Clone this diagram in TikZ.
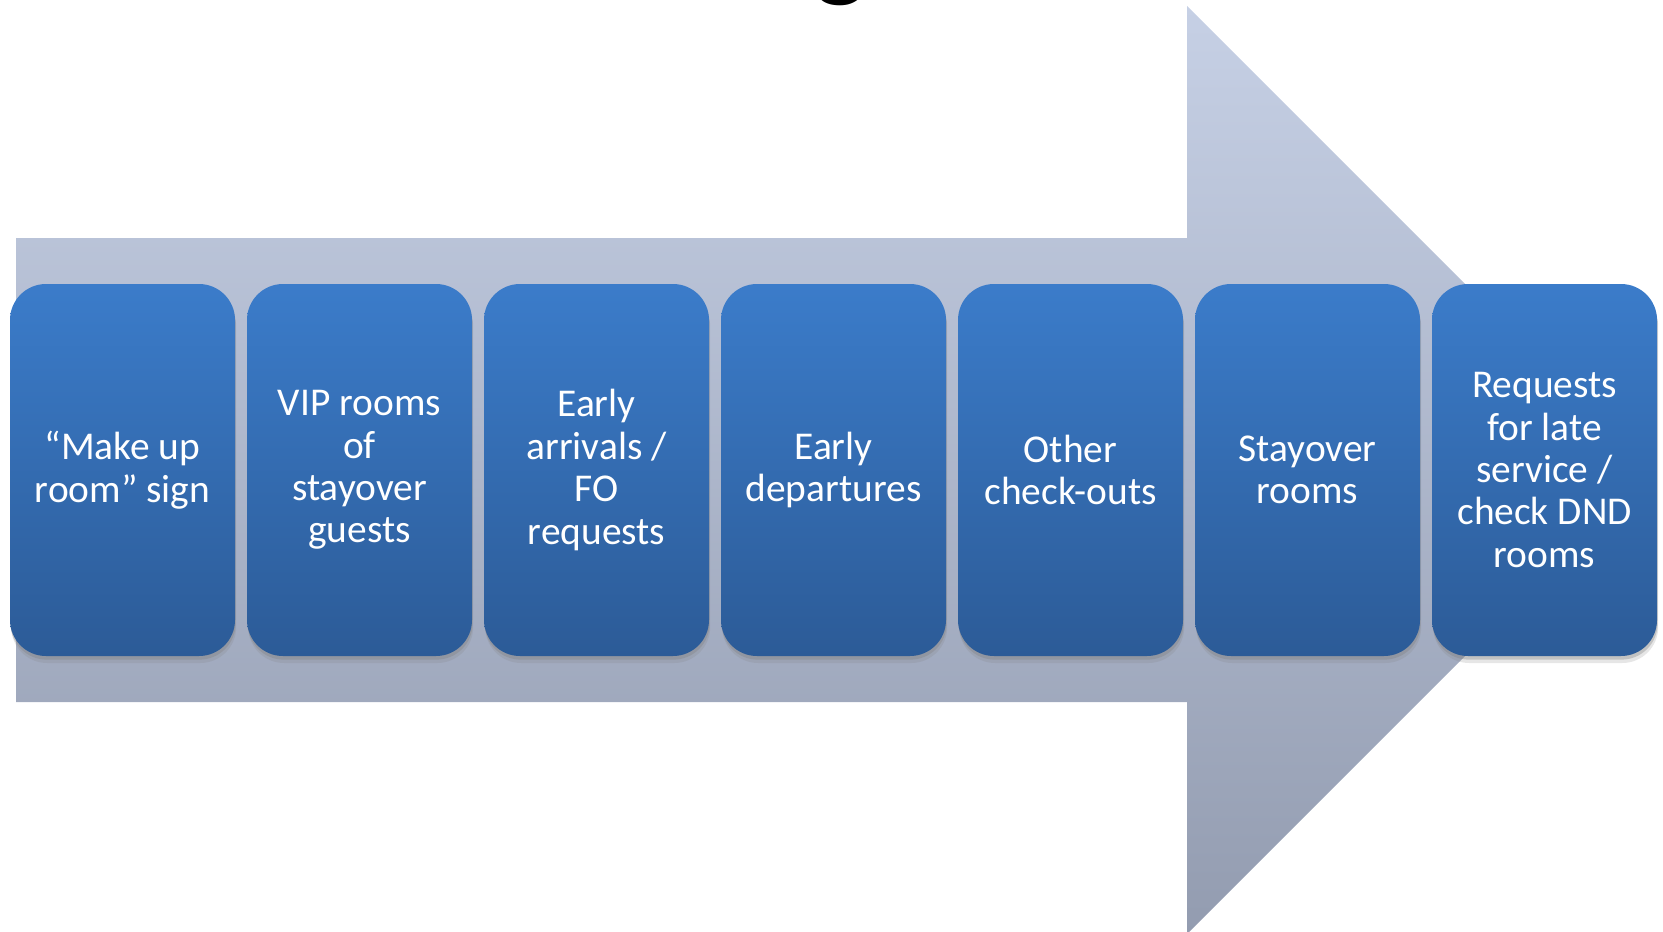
\documentclass[tikz,border=0pt]{standalone}
\usepackage{fontspec}
\setmainfont{Carlito}
\usetikzlibrary{shadows}
\definecolor{arrowtop}{HTML}{C6D0E5}
\definecolor{arrowbot}{HTML}{939CB0}
\definecolor{boxtop}{HTML}{3B7CCA}
\definecolor{boxbot}{HTML}{2C5B97}
\begin{document}
\begin{tikzpicture}[x=0.5pt, y=-0.5pt,
  itembox/.style={rounded corners=18pt, minimum width=112.5pt, minimum height=186pt,
    inner sep=0pt, top color=boxtop, bottom color=boxbot, text=white, align=center,
    font=\fontsize{19.7}{21.2}\selectfont,
    drop shadow={shadow xshift=0.6pt, shadow yshift=-3.5pt, opacity=0.2},
    drop shadow={shadow xshift=0.3pt, shadow yshift=-1.8pt, opacity=0.35}}]
\useasboundingbox (0,0) rectangle (1663,931);
\clip (0,0) rectangle (1663,931);

% title, only its lowest part shows
\node[font=\fontsize{54}{60}\selectfont\bfseries, anchor=base] (title) at (841,-12) {g};

% big arrow behind the boxes
\shade[top color=arrowtop, bottom color=arrowbot] (16,238) -- (1187,238) -- (1187,6)
  -- (1651,470) -- (1187,934) -- (1187,702) -- (16,702) -- cycle;

\node[itembox] (makeup) at (122.5,470) {“Make up\\room” sign};
\node[itembox] (vip) at (359.5,470) {VIP rooms\\of\\stayover\\guests};
\node[itembox] (arrivals) at (596.5,470) {Early\\arrivals /\\FO\\requests};
\node[itembox] (departures) at (833.5,470) {Early\\departures};
\node[itembox] (checkouts) at (1070.5,470) {Other\\check-outs};
\node[itembox] (stayover) at (1307.5,470) {Stayover\\rooms};
\node[itembox] (requests) at (1544.5,470) {Requests\\for late\\service /\\check DND\\rooms};
\end{tikzpicture}
\end{document}
